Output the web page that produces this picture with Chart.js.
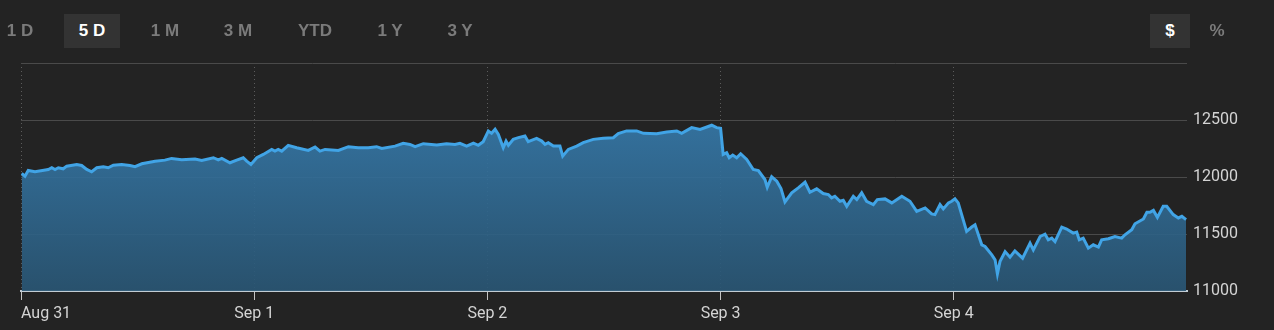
<!DOCTYPE html>
<html>
<head>
<meta charset="utf-8">
<script src="https://cdn.jsdelivr.net/npm/chart.js@4.4.1/dist/chart.umd.min.js"></script>
<style>
  html, body { margin: 0; padding: 0; background: #232323; }
  #wrap { position: relative; width: 1274px; height: 330px; }
  .btn {
    position: absolute; top: 14px; height: 34px;
    font: bold 17px "Liberation Sans", Arial, sans-serif; line-height: 34px;
    color: #7b7b7b; text-align: center; transform: translateX(-50%); white-space: pre;
  }
  .btn.on { color: #fff; background: #333333; }
</style>
</head>
<body>
<div id="wrap">
  <canvas id="chart"></canvas>
  <div class="btn" style="left:20px">1 D</div>
  <div class="btn on" style="left:92px;width:56px">5 D</div>
  <div class="btn" style="left:165px">1 M</div>
  <div class="btn" style="left:238px">3 M</div>
  <div class="btn" style="left:315px">YTD</div>
  <div class="btn" style="left:390px">1 Y</div>
  <div class="btn" style="left:460px">3 Y</div>
  <div class="btn on" style="left:1170px;width:40px">$</div>
  <div class="btn" style="left:1217px">%</div>
</div>
<script>
// 5 trading sessions, x is measured in days from the Aug 31 open
const dayLabels = ['Aug 31', 'Sep 1', 'Sep 2', 'Sep 3', 'Sep 4'];
const yTickValues = [11000, 11500, 12000, 12500, 13000];

const times = [
  0.003, 0.017, 0.031, 0.060, 0.117, 0.132, 0.146, 0.160, 0.181, 0.196,
  0.239, 0.260, 0.282, 0.303, 0.325, 0.353, 0.374, 0.396, 0.432, 0.467,
  0.489, 0.518, 0.575, 0.617, 0.646, 0.689, 0.746, 0.775, 0.825, 0.846,
  0.861, 0.896, 0.925, 0.953, 0.968, 0.986,
  1.011, 1.039, 1.075, 1.089, 1.103, 1.118, 1.146, 1.182, 1.232, 1.261,
  1.282, 1.304, 1.361, 1.404, 1.446, 1.489, 1.525, 1.547, 1.604, 1.639,
  1.668, 1.690, 1.725, 1.783, 1.825, 1.861, 1.882, 1.911, 1.940, 1.961,
  1.982,
  2.004, 2.018, 2.033, 2.047, 2.068, 2.080, 2.090, 2.111, 2.133, 2.161,
  2.175, 2.211, 2.233, 2.247, 2.261, 2.283, 2.311, 2.323, 2.347, 2.383,
  2.411, 2.454, 2.497, 2.540, 2.561, 2.597, 2.640, 2.669, 2.726, 2.769,
  2.812, 2.833, 2.876, 2.912, 2.962, 2.983, 3.000,
  3.011, 3.026, 3.037, 3.052, 3.069, 3.086, 3.112, 3.140, 3.162, 3.190,
  3.200, 3.219, 3.241, 3.259, 3.276, 3.305, 3.333, 3.362, 3.383, 3.412,
  3.440, 3.462, 3.476, 3.490, 3.512, 3.526, 3.541, 3.569, 3.584, 3.605,
  3.626, 3.655, 3.672, 3.705, 3.734, 3.777, 3.812, 3.841, 3.877, 3.905,
  3.919, 3.941, 3.955, 3.977, 3.991,
  4.005, 4.019, 4.055, 4.077, 4.091, 4.120, 4.134, 4.163, 4.177, 4.187,
  4.198, 4.220, 4.241, 4.262, 4.295, 4.327, 4.341, 4.370, 4.391, 4.405,
  4.420, 4.434, 4.463, 4.484, 4.512, 4.527, 4.538, 4.555, 4.577, 4.598,
  4.620, 4.634, 4.663, 4.691, 4.720, 4.734, 4.763, 4.777, 4.813, 4.828,
  4.841, 4.856, 4.873, 4.898, 4.913, 4.941, 4.963, 4.978, 4.996
];

const prices = [
  12031, 12007, 12057, 12046, 12066, 12081, 12066, 12081, 12072, 12095,
  12110, 12101, 12066, 12046, 12081, 12090, 12081, 12104, 12110, 12101,
  12090, 12116, 12139, 12148, 12163, 12151, 12157, 12145, 12169, 12151,
  12163, 12125, 12148, 12169, 12139, 12110,
  12169, 12198, 12242, 12227, 12242, 12227, 12278, 12257, 12233, 12263,
  12227, 12242, 12233, 12266, 12257, 12257, 12266, 12251, 12271, 12295,
  12286, 12266, 12292, 12280, 12292, 12286, 12295, 12271, 12298, 12278,
  12310,
  12404, 12383, 12418, 12374, 12257, 12315, 12278, 12330, 12345, 12360,
  12310, 12339, 12315, 12286, 12301, 12271, 12271, 12183, 12242, 12271,
  12301, 12330, 12339, 12345, 12380, 12404, 12404, 12383, 12380, 12395,
  12404, 12383, 12433, 12418, 12454, 12433, 12427,
  12198, 12213, 12169, 12192, 12169, 12204, 12154, 12066, 12057, 11978,
  11910, 12002, 11963, 11899, 11781, 11861, 11905, 11954, 11866, 11896,
  11855, 11846, 11817, 11831, 11787, 11796, 11743, 11831, 11802, 11861,
  11787, 11758, 11802, 11808, 11773, 11831, 11787, 11699, 11729, 11676,
  11670, 11758, 11720, 11773, 11787,
  11808, 11773, 11523, 11561, 11581, 11405, 11390, 11317, 11273, 11150,
  11258, 11346, 11297, 11352, 11288, 11420, 11361, 11478, 11499, 11449,
  11464, 11434, 11561, 11544, 11508, 11517, 11449, 11464, 11376, 11405,
  11385, 11449, 11458, 11478, 11464, 11493, 11537, 11590, 11632, 11690,
  11690, 11707, 11646, 11743, 11743, 11670, 11641, 11655, 11626
];

const points = times.map((t, i) => ({ x: t, y: prices[i] }));

const areaFill = (context) => {
  const area = context.chart.chartArea;
  if (!area) return 'rgba(52,122,172,0.9)';
  const g = context.chart.ctx.createLinearGradient(0, area.top, 0, area.bottom);
  g.addColorStop(0, 'rgba(58,132,186,0.92)');
  g.addColorStop(1, 'rgba(42,86,116,0.92)');
  return g;
};

new Chart(document.getElementById('chart'), {
  type: 'line',
  data: {
    datasets: [{
      data: points,
      borderColor: '#41a4e6',
      borderWidth: 3,
      backgroundColor: areaFill,
      fill: 'start',
      pointRadius: 0,
      tension: 0
    }]
  },
  options: {
    responsive: true,
    maintainAspectRatio: false,
    animation: false,
    layout: { padding: { left: 21, top: 63, right: 0, bottom: 0 } },
    plugins: { legend: { display: false }, tooltip: { enabled: false } },
    scales: {
      x: {
        type: 'linear',
        min: 0,
        max: 5,
        afterBuildTicks: (scale) => {
          scale.ticks = [0, 1, 2, 3, 4, 5].map(v => ({ value: v }));
        },
        afterFit: (scale) => { scale.height = 39; },
        ticks: {
          autoSkip: false,
          maxRotation: 0,
          align: 'inner',
          padding: 4,
          color: '#d4d4d4',
          font: { family: 'Roboto', size: 16 },
          callback: (v) => dayLabels[v] || ''
        },
        grid: {
          color: (c) => c.index === 5 ? 'transparent' : '#5c5c5c',
          tickColor: (c) => c.index === 5 ? 'transparent' : '#c4c4c4',
          tickLength: 9,
          tickBorderDash: [],
          lineWidth: 1
        },
        border: { display: true, color: '#c2ccd4', width: 2, dash: [1, 3] }
      },
      y: {
        position: 'right',
        min: 11000,
        max: 13000,
        afterBuildTicks: (scale) => {
          scale.ticks = yTickValues.map(v => ({ value: v }));
        },
        afterFit: (scale) => { scale.width = 87; },
        ticks: {
          padding: 6,
          color: '#d4d4d4',
          font: { family: 'Roboto', size: 16 },
          callback: (v) => v === 13000 ? '' : String(v)
        },
        grid: { color: '#4a4a4a', lineWidth: 1, drawTicks: false },
        border: { display: false }
      }
    }
  }
});
</script>
</body>
</html>
